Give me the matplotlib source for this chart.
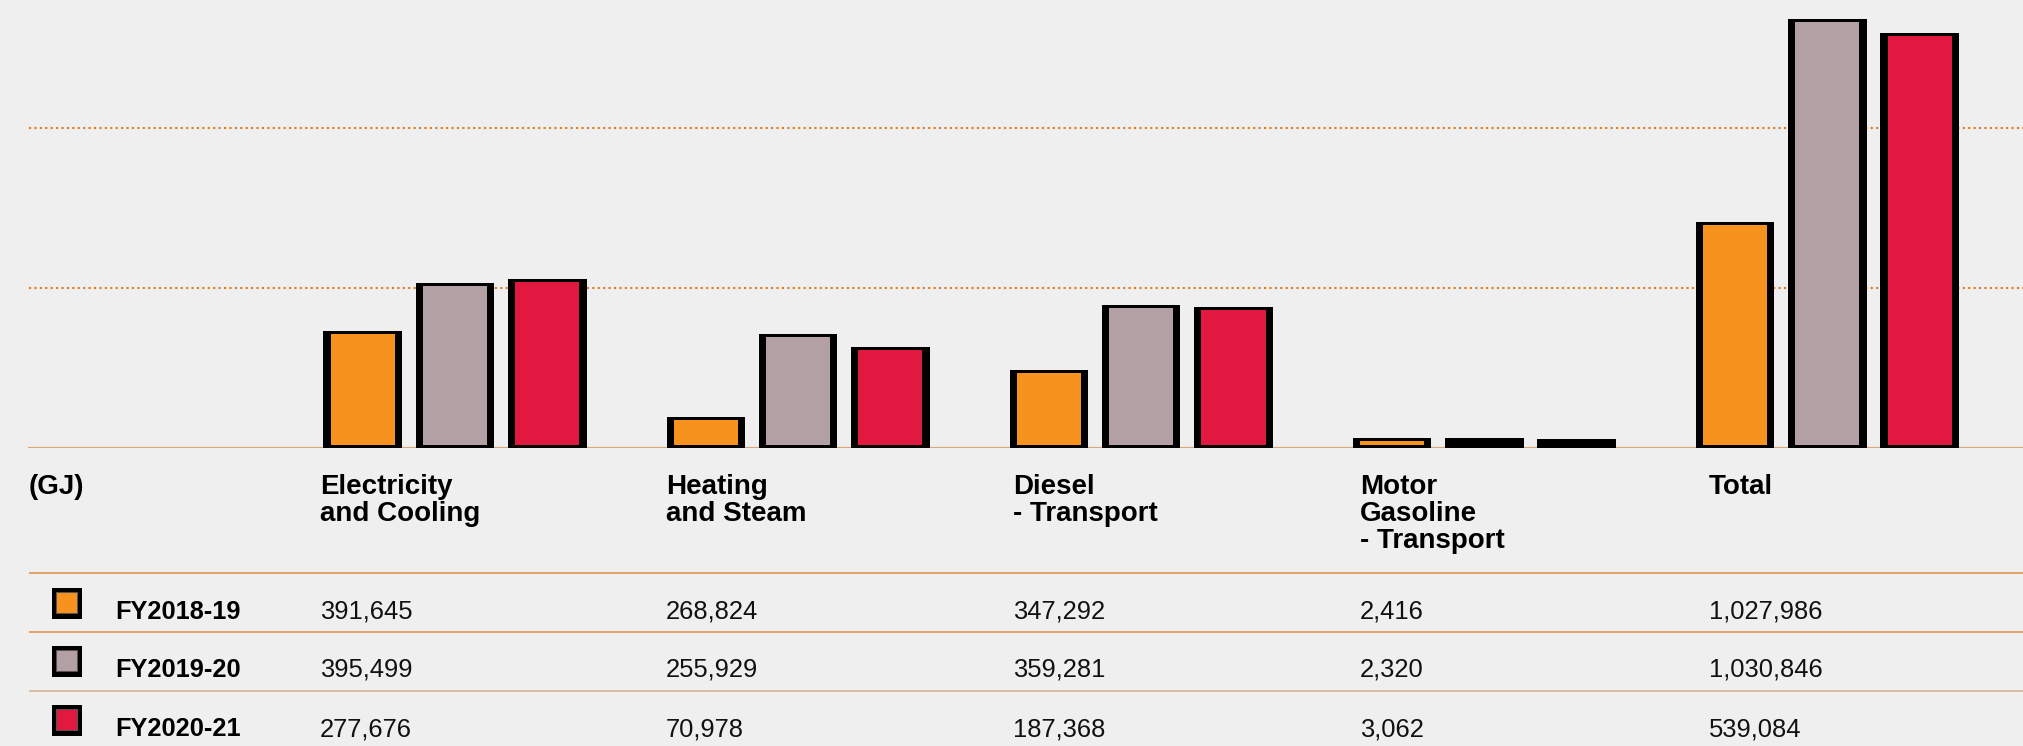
import matplotlib
matplotlib.use("Agg")
import matplotlib.pyplot as plt
from matplotlib.patches import Rectangle
import numpy as np

# ---------------- data ----------------
categories = ["Electricity\nand Cooling", "Heating\nand Steam", "Diesel\n- Transport",
              "Motor\nGasoline\n- Transport", "Total"]
series_labels = ["FY2018-19", "FY2019-20", "FY2020-21"]
unit_label = "(GJ)"

# bar heights as drawn in the picture (GJ)
bars_orange = [292500, 77500, 195000, 25000, 565000]
bars_grey = [412500, 285000, 357500, 25000, 1072500]
bars_red = [422500, 252500, 352500, 23750, 1037500]

# table values as printed
table_fy1819 = [391645, 268824, 347292, 2416, 1027986]
table_fy1920 = [395499, 255929, 359281, 2320, 1030846]
table_fy2021 = [277676, 70978, 187368, 3062, 539084]

gridline_values = [400000, 800000]

# ---------------- style ----------------
W, H = 2024, 746
DPI = 100
bg = "#EFEFEF"
c_orange = "#F7921E"
c_grey = "#B2A0A4"
c_red = "#E1183F"
colors = [c_orange, c_grey, c_red]
grid_col = "#E07A1F"
base_col = "#D9A878"
rule_cols = ["#E2A267", "#E2A267", "#D8BDA2"]
# (series, category) bars rendered as solid black strokes in the original
solid_black = {(1, 3), (2, 3)}

plt.rcParams["font.family"] = ["Liberation Sans", "DejaVu Sans"]

fig = plt.figure(figsize=(W / DPI, H / DPI), dpi=DPI, facecolor=bg)

# pixel geometry
base_px = 448.0          # baseline y (from top)
px_per_unit = 343.1      # group spacing in px
center0 = 455.0          # first group centre in px
gj_per_px = 2500.0

ax = fig.add_axes([0, (H - base_px) / H, 1, base_px / H])
ax.set_facecolor("none")
ax.set_xlim(-center0 / px_per_unit, (W - center0) / px_per_unit)
ax.set_ylim(0, base_px * gj_per_px)
ax.axis("off")

x = np.arange(len(categories))
bar_w = 78.5 / px_per_unit
offset = 92.3 / px_per_unit
ex = 7.2 / px_per_unit
ey = 2.8 * gj_per_px

x_start = 29 / W
for gv in gridline_values:
    ax.axhline(gv, xmin=x_start, xmax=1, color=grid_col, lw=1.5,
               linestyle=(0, (1, 1.6)), zorder=1)
ax.axhline(0, xmin=x_start, xmax=1, color=base_col, lw=1.6, zorder=1)

for k, (vals, col) in enumerate(zip([bars_orange, bars_grey, bars_red], colors)):
    vals = np.array(vals, dtype=float)
    pos = x + (k - 1) * offset
    ax.bar(pos, vals, width=bar_w, color="black", zorder=3)
    inner = np.clip(vals - 2 * ey, 0, None)
    for i in range(len(vals)):
        if (k, i) in solid_black:
            inner[i] = 0
    ax.bar(pos, inner, bottom=ey, width=bar_w - 2 * ex, color=col, zorder=4)

# ---------------- table overlay ----------------
ov = fig.add_axes([0, 0, 1, 1])
ov.set_facecolor("none")
ov.set_xlim(0, W)
ov.set_ylim(H, 0)
ov.axis("off")

col_x = [320, 666, 1013, 1360, 1709]
head_base = 494.5
head_step = 26.5
head_fs = 20.0
ov.text(29, head_base, unit_label, fontsize=head_fs, fontweight="bold",
        va="baseline", ha="left", color="black")
for cx, cat in zip(col_x, categories):
    for j, line in enumerate(cat.split("\n")):
        ov.text(cx, head_base + j * head_step, line, fontsize=head_fs,
                fontweight="bold", va="baseline", ha="left", color="black")

rule_y = [573, 632, 691]
for ry, rc in zip(rule_y, rule_cols):
    ov.plot([29, W], [ry, ry], color=rc, lw=1.4, solid_capstyle="butt")

row_base = [619, 677, 736]
rows = [table_fy1819, table_fy1920, table_fy2021]
for rb, lab, row, col in zip(row_base, series_labels, rows, colors):
    top = rb - 31.5
    ov.add_patch(Rectangle((51.7, top), 30.6, 31.2, facecolor="black", edgecolor="none"))
    ov.add_patch(Rectangle((56.0, top + 4.3), 22.0, 22.6, facecolor="#5a5050", edgecolor="none"))
    ov.add_patch(Rectangle((57.0, top + 5.3), 20.0, 20.6, facecolor=col, edgecolor="none"))
    ov.text(115, rb, lab, fontsize=18.3, fontweight="bold", va="baseline",
            ha="left", color="black")
    for cx, v in zip(col_x, row):
        ov.text(cx, rb, f"{v:,}", fontsize=18.4, va="baseline", ha="left",
                color="#111111")

fig.savefig("out.png", dpi=DPI, facecolor=bg)
